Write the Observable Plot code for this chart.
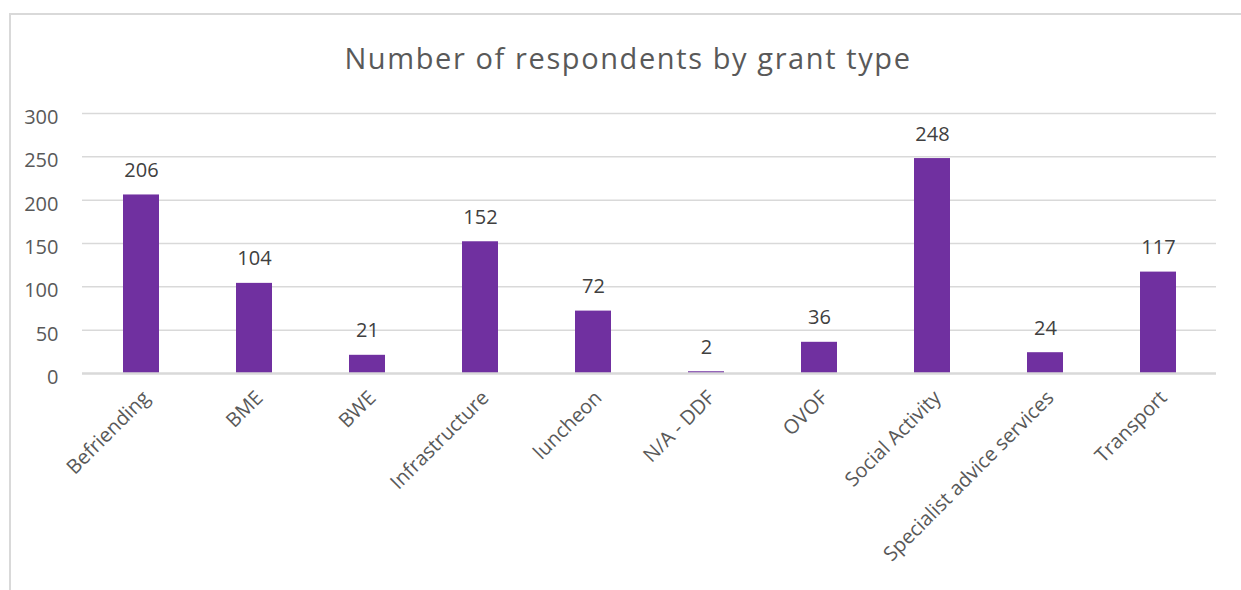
<!DOCTYPE html>
<html>
<head>
<meta charset="utf-8">
<script src="https://cdn.jsdelivr.net/npm/d3@7"></script>
<script src="https://cdn.jsdelivr.net/npm/@observablehq/plot@0.6"></script>
<style>
  html, body { margin: 0; padding: 0; background: #fff; }
  body { width: 1241px; height: 590px; position: relative; overflow: hidden; font-family: "Open Sans", sans-serif; }
  #frame { position: absolute; left: 9px; top: 13px; right: -10px; bottom: -10px; border-left: 2px solid #d9d9d9; border-top: 2px solid #d9d9d9; }
  #title { position: absolute; left: 0; width: 1256px; top: 38px; text-align: center; font-size: 29px; letter-spacing: 1.6px; color: #595959; font-family: "Open Sans", sans-serif; }
  #chart { position: absolute; left: 0; top: 0; }
</style>
</head>
<body>
<div id="frame"></div>
<div id="title">Number of respondents by grant type</div>
<div id="chart"></div>
<script>
const categories = ["Befriending", "BME", "BWE", "Infrastructure", "luncheon", "N/A - DDF", "OVOF", "Social Activity", "Specialist advice services", "Transport"];
const values = [206, 104, 21, 152, 72, 2, 36, 248, 24, 117];
const yTicks = [0, 50, 100, 150, 200, 250, 300];

const data = categories.map((c, i) => ({category: c, value: values[i]}));

const chart = Plot.plot({
  width: 1241,
  height: 590,
  marginLeft: 82,
  marginRight: 25,
  marginTop: 113,
  marginBottom: 217,
  style: {fontFamily: "Open Sans, sans-serif", fontSize: "20px", color: "#595959", background: "transparent"},
  x: {domain: categories, paddingInner: 0.683, paddingOuter: 0.3415, label: null},
  y: {domain: [0, 300], label: null},
  marks: [
    Plot.gridY(yTicks.filter(d => d > 0), {stroke: "#d9d9d9", strokeOpacity: 1, strokeWidth: 1.5}),
    Plot.axisY({ticks: yTicks, tickSize: 0, tickPadding: 24, dy: 4, fontSize: 20, fill: "#595959", label: null}),
    Plot.barY(data, {x: "category", y: "value", fill: "#7030a0"}),
    Plot.ruleY([0], {stroke: "#d9d9d9", strokeWidth: 2.5}),
    Plot.text(data, {x: "category", y: "value", text: d => String(d.value), lineAnchor: "bottom", dy: -18, fontSize: 20, fill: "#404040"}),
    Plot.axisX({tickSize: 0, tickRotate: -45, tickPadding: 21, fontSize: 20, fill: "#595959", label: null, dx: 5})
  ]
});
document.getElementById("chart").appendChild(chart);
</script>
</body>
</html>
